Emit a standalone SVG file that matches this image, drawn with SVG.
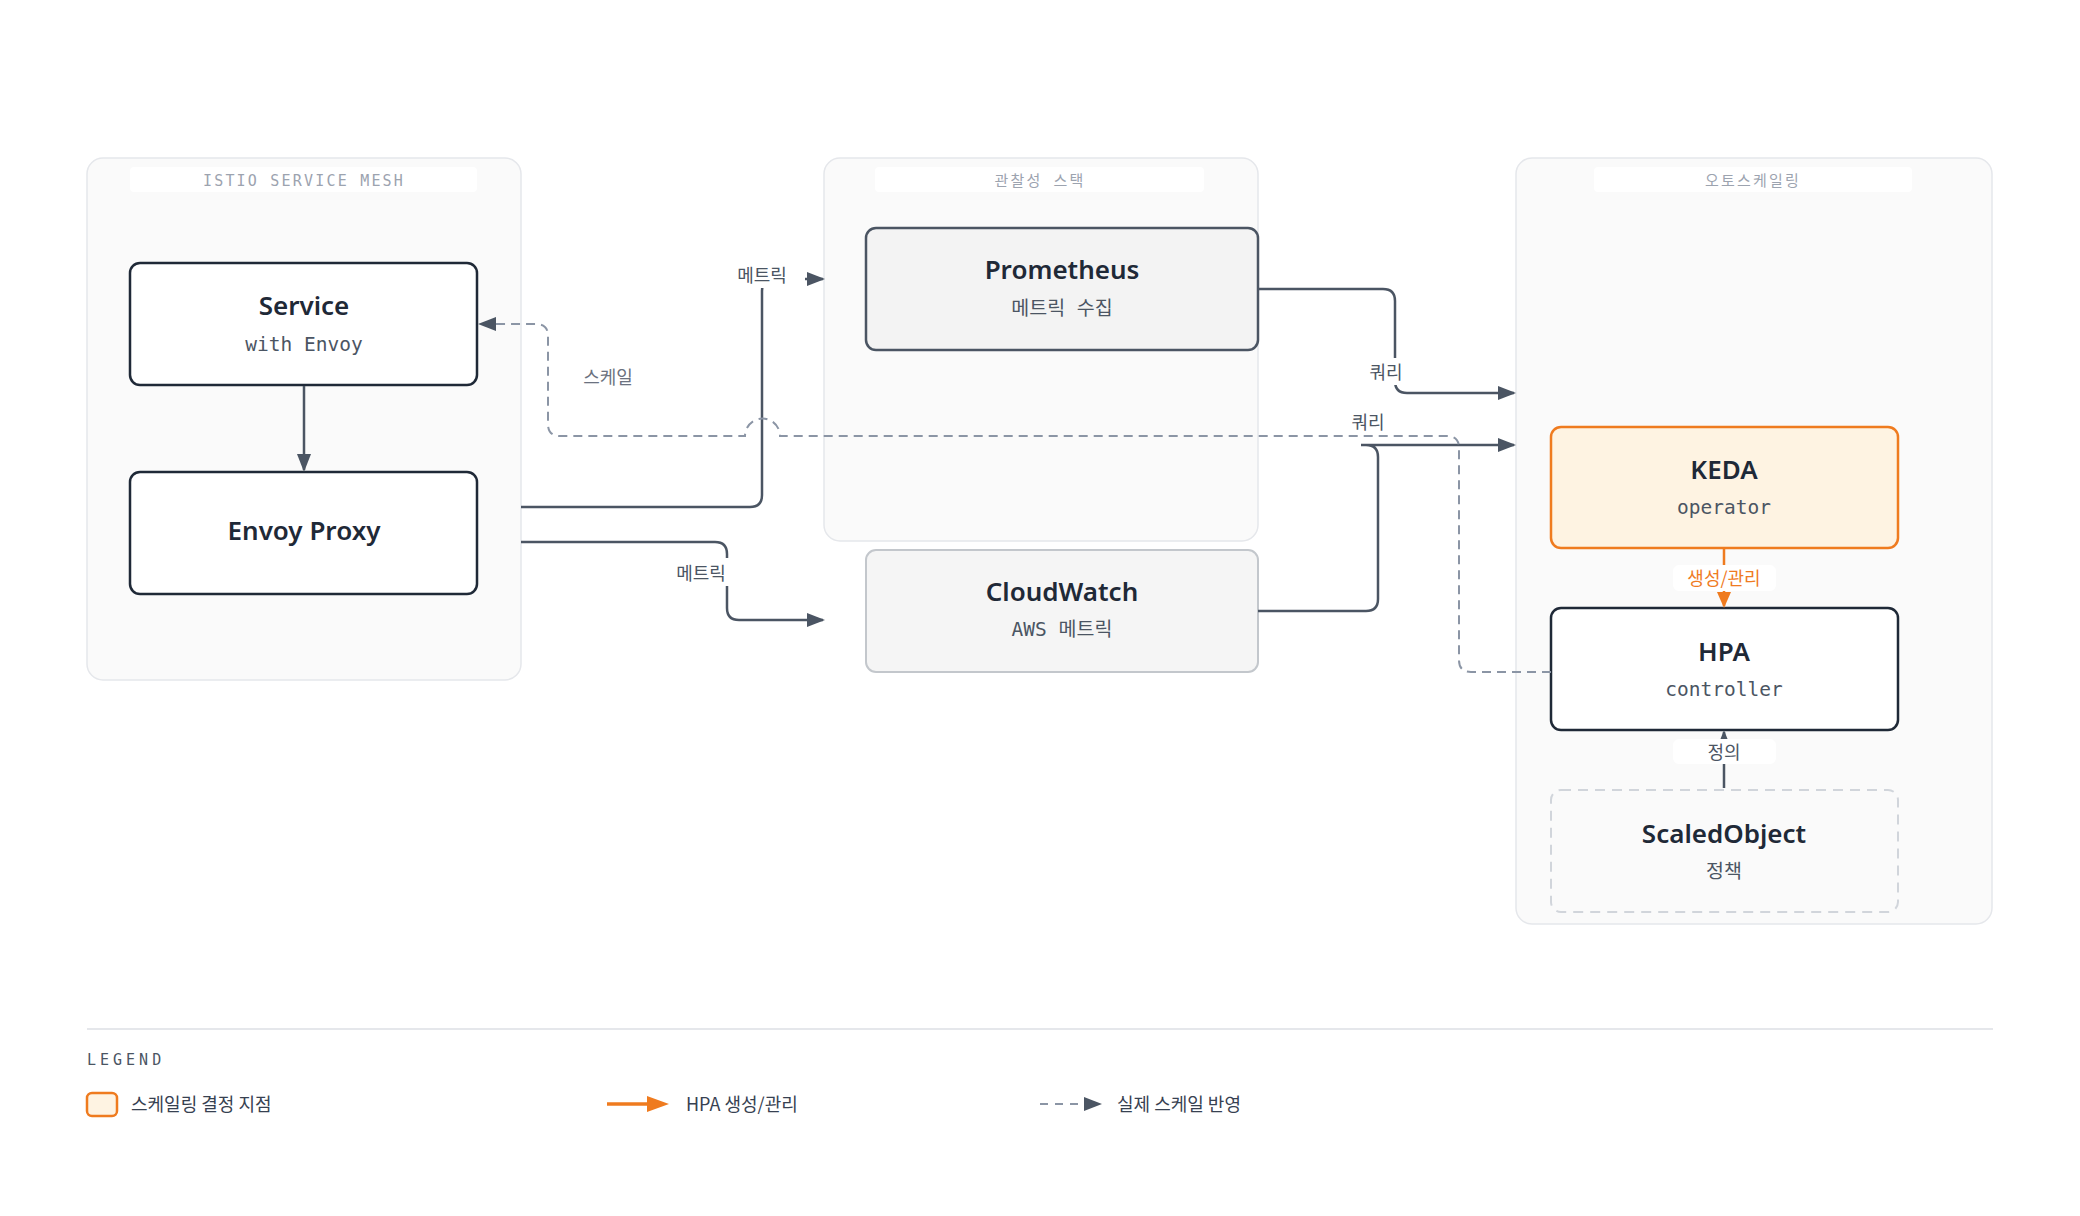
<svg xmlns="http://www.w3.org/2000/svg" width="2080" height="1216" viewBox="0 0 2080 1216">
  <defs>
    <style>
      .cluster { fill: #fafafa; stroke: #e5e7eb; stroke-width: 1.5; }
      .clabel-bg { fill: #ffffff; }
      .clabel { font-family: "DejaVu Sans Mono", "Noto Sans CJK KR", monospace; font-size: 15px; fill: #9ca3af; letter-spacing: 2.2px; text-anchor: middle; }
      .title { font-family: "Noto Sans", "Noto Sans CJK KR", sans-serif; font-size: 26px; font-weight: 600; fill: #1f2937; text-anchor: middle; }
      .sub { font-family: "DejaVu Sans Mono", "Noto Sans CJK KR", monospace; font-size: 19.5px; fill: #4b5563; text-anchor: middle; }
      .edge { fill: none; stroke: #4b5563; stroke-width: 2.5; }
      .edge-o { fill: none; stroke: #ef7b1f; stroke-width: 2.5; }
      .edge-d { fill: none; stroke: #8b95a5; stroke-width: 2; stroke-dasharray: 9 6; }
      .elabel { font-family: "Noto Sans CJK KR", "Noto Sans", sans-serif; font-size: 18px; fill: #4b5563; text-anchor: middle; }
      .elabel-o { font-family: "Noto Sans CJK KR", "Noto Sans", sans-serif; font-size: 18px; fill: #ef7b1f; text-anchor: middle; }
      .elabel-d { font-family: "Noto Sans CJK KR", "Noto Sans", sans-serif; font-size: 18px; fill: #6b7280; text-anchor: middle; }
      .lbg { fill: #ffffff; }
      .legend-t { font-family: "Noto Sans CJK KR", "Noto Sans", sans-serif; font-size: 18px; fill: #374151; }
    </style>
    <marker id="ah" viewBox="0 0 18 14" refX="16" refY="7" markerWidth="18" markerHeight="14" markerUnits="userSpaceOnUse" orient="auto">
      <path d="M0 0 L18 7 L0 14 Z" fill="#4b5563"/>
    </marker>
    <marker id="ahO" viewBox="0 0 16 14" refX="14" refY="7" markerWidth="16" markerHeight="14" markerUnits="userSpaceOnUse" orient="auto">
      <path d="M0 0 L16 7 L0 14 Z" fill="#ef7b1f"/>
    </marker>
  </defs>

  <rect x="0" y="0" width="2080" height="1216" fill="#ffffff"/>

  <!-- Clusters -->
  <g id="cluster-istio">
    <rect class="cluster" x="87" y="158" width="434" height="522" rx="16"/>
    <rect class="clabel-bg" x="130" y="167" width="347" height="25" rx="4"/>
    <text class="clabel" x="304" y="186">ISTIO SERVICE MESH</text>
  </g>
  <g id="cluster-observability">
    <rect class="cluster" x="824" y="158" width="434" height="383" rx="16"/>
    <rect class="clabel-bg" x="875" y="167" width="329" height="25" rx="4"/>
    <text class="clabel" x="1040" y="186">관찰성 스택</text>
  </g>
  <g id="cluster-autoscaling">
    <rect class="cluster" x="1516" y="158" width="476" height="766" rx="16"/>
    <rect class="clabel-bg" x="1594" y="167" width="318" height="25" rx="4"/>
    <text class="clabel" x="1753" y="186">오토스케일링</text>
  </g>

  <!-- Nodes -->
  <g id="node-service">
    <rect x="130" y="263" width="347" height="122" rx="10" fill="#ffffff" stroke="#1f2937" stroke-width="2.5"/>
    <text class="title" x="304" y="315">Service</text>
    <text class="sub" x="304" y="351">with Envoy</text>
  </g>
  <g id="node-envoy">
    <rect x="130" y="472" width="347" height="122" rx="10" fill="#ffffff" stroke="#1f2937" stroke-width="2.5"/>
    <text class="title" x="304" y="540">Envoy Proxy</text>
  </g>
  <g id="node-prometheus">
    <rect x="866" y="228" width="392" height="122" rx="10" fill="#f3f3f3" stroke="#4b5563" stroke-width="2.5"/>
    <text class="title" x="1062" y="279">Prometheus</text>
    <text class="sub" x="1062" y="315">메트릭 수집</text>
  </g>
  <g id="node-cloudwatch">
    <rect x="866" y="550" width="392" height="122" rx="10" fill="#f5f5f5" stroke="#c3c7cc" stroke-width="2"/>
    <text class="title" x="1062" y="601">CloudWatch</text>
    <text class="sub" x="1062" y="636">AWS 메트릭</text>
  </g>
  <g id="node-keda">
    <rect x="1551" y="427" width="347" height="121" rx="10" fill="#fef3e2" stroke="#ef7b1f" stroke-width="2.5"/>
    <text class="title" x="1724" y="479">KEDA</text>
    <text class="sub" x="1724" y="514">operator</text>
  </g>
  <g id="node-hpa">
    <rect x="1551" y="608" width="347" height="122" rx="10" fill="#ffffff" stroke="#1f2937" stroke-width="2.5"/>
    <text class="title" x="1724" y="661">HPA</text>
    <text class="sub" x="1724" y="696">controller</text>
  </g>
  <g id="node-scaledobject">
    <rect x="1551" y="790" width="347" height="122" rx="10" fill="#fafafa" stroke="#d1d5db" stroke-width="2" stroke-dasharray="10 7"/>
    <text class="title" x="1724" y="843">ScaledObject</text>
    <text class="sub" x="1724" y="878">정책</text>
  </g>

  <!-- Connectors -->
  <g id="connectors">
    <path class="edge" d="M304 386 V470" marker-end="url(#ah)"/>

    <path class="edge" d="M521 507 H750 Q762 507 762 495 V291 Q762 279 774 279 H823" marker-end="url(#ah)"/>
    <rect class="lbg" x="721" y="262" width="84" height="26"/>
    <text class="elabel" x="762" y="282">메트릭</text>

    <path class="edge" d="M521 542 H715 Q727 542 727 554 V608 Q727 620 739 620 H823" marker-end="url(#ah)"/>
    <rect class="lbg" x="670" y="558" width="63" height="28"/>
    <text class="elabel" x="701" y="580">메트릭</text>

    <path class="edge" d="M1258 289 H1383 Q1395 289 1395 301 V381 Q1395 393 1407 393 H1514" marker-end="url(#ah)"/>
    <rect class="lbg" x="1364" y="358" width="46" height="27"/>
    <text class="elabel" x="1386" y="379">쿼리</text>

    <path class="edge" d="M1258 611 H1366 Q1378 611 1378 599 V457 Q1378 445 1366 445 H1361 L1514 445" marker-end="url(#ah)"/>
    <text class="elabel" x="1368" y="429">쿼리</text>

    <path class="edge-d" d="M1551 672 H1471 Q1459 672 1459 660 V448 Q1459 436 1447 436 H780 A17.5 17.5 0 0 0 745 436 H560 Q548 436 548 424 V336 Q548 324 536 324 H480" marker-end="url(#ah)"/>
    <text class="elabel-d" x="608" y="384">스케일</text>

    <path class="edge-o" d="M1724 548 V606" marker-end="url(#ahO)"/>
    <rect class="lbg" x="1673" y="565" width="103" height="26" rx="6"/>
    <text class="elabel-o" x="1724" y="585">생성/관리</text>

    <path class="edge" d="M1724 788 V732" marker-end="url(#ah)"/>
    <rect class="lbg" x="1673" y="739" width="103" height="25" rx="6"/>
    <text class="elabel" x="1724" y="759">정의</text>
  </g>

  <!-- Legend -->
  <g id="legend">
    <line x1="87" y1="1029" x2="1993" y2="1029" stroke="#e5e7eb" stroke-width="2"/>
    <text x="87" y="1065" font-family="DejaVu Sans Mono, monospace" font-size="15" letter-spacing="4" fill="#4b5563">LEGEND</text>
    <rect x="87" y="1093" width="30" height="23" rx="5" fill="#fef3e2" stroke="#ef7b1f" stroke-width="2.5"/>
    <text class="legend-t" x="131" y="1111">스케일링 결정 지점</text>
    <line x1="607" y1="1104" x2="650" y2="1104" stroke="#ef7b1f" stroke-width="3.5"/>
    <polygon points="647,1096 669,1104 647,1112" fill="#ef7b1f"/>
    <text class="legend-t" x="686" y="1111">HPA 생성/관리</text>
    <line x1="1040" y1="1104" x2="1079" y2="1104" stroke="#8b95a5" stroke-width="2" stroke-dasharray="8 7"/>
    <polygon points="1084,1097 1102,1104 1084,1111" fill="#4b5563"/>
    <text class="legend-t" x="1117" y="1111">실제 스케일 반영</text>
  </g>
</svg>
